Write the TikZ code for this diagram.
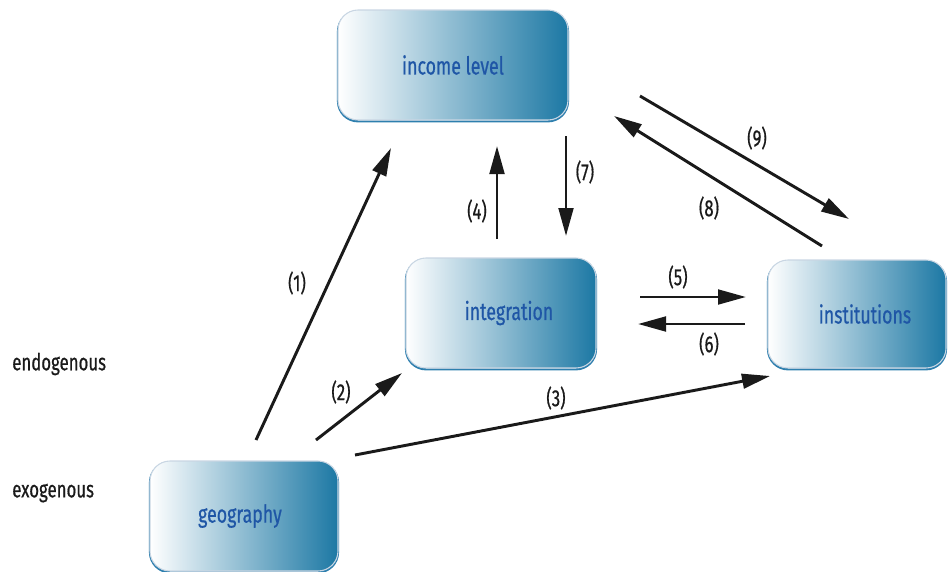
\documentclass[tikz,border=0pt]{standalone}
\usepackage{fontspec}
\setmainfont{Fira Sans}[FakeStretch=0.72, FakeBold=0.6]
\usetikzlibrary{arrows.meta}
\definecolor{boxright}{HTML}{1C78A4}
\definecolor{boxleft}{HTML}{FFFFFF}
\definecolor{boxdark}{HTML}{2E7FAE}
\definecolor{boxedge}{HTML}{C9D6E3}
\definecolor{boxtext}{HTML}{1F56A6}
\definecolor{arrowcol}{HTML}{1A1A1A}
\tikzset{
  box/.style={rectangle, rounded corners=15pt, left color=boxleft, right color=boxright,
    draw=boxedge, line width=0.8pt, text=boxtext, font=\fontsize{18.5}{21}\selectfont,
    preaction={draw=boxdark, line width=1.6pt, transform canvas={yshift=-1pt}}},
  conn/.style={draw=arrowcol, line width=2.2pt, -{Triangle[length=21pt, width=11pt]}},
  lab/.style={text=arrowcol, font=\fontsize{17.5}{20}\selectfont, inner sep=0pt},
  side/.style={text=arrowcol, font=\fontsize{17.5}{20}\selectfont, inner sep=0pt, anchor=west}
}
\begin{document}
\begin{tikzpicture}[x=0.75pt, y=-0.75pt]
\useasboundingbox (0,0) rectangle (948,571);
% boxes
\node[box, minimum width=172.5pt, minimum height=82.5pt] (income) at (453,65) {income level};
\node[box, minimum width=142.5pt, minimum height=82.5pt] (integ) at (501,313) {\hspace*{12pt}integration};
\node[box, minimum width=133.5pt, minimum height=81pt] (inst) at (857,314) {\hspace*{12pt}institutions};
\node[box, minimum width=141pt, minimum height=82.5pt] (geo) at (244,516) {geography\hspace*{6pt}};
% side labels
\node[side] (endo) at (12,364) {endogenous};
\node[side] (exo) at (12,493) {exogenous};
% arrow end points
\coordinate (a1s) at (256,440); \coordinate (a1e) at (391,148);
\coordinate (a2s) at (316,440); \coordinate (a2e) at (402,373);
\coordinate (a3s) at (355,455); \coordinate (a3e) at (770,376);
\coordinate (a4s) at (497,239); \coordinate (a4e) at (497,146);
\coordinate (a7s) at (566,136); \coordinate (a7e) at (566,236);
\coordinate (a5s) at (640,297); \coordinate (a5e) at (746,297);
\coordinate (a6s) at (745,324); \coordinate (a6e) at (638,324);
\coordinate (a8s) at (822,246); \coordinate (a8e) at (614,116);
\coordinate (a9s) at (640,96);  \coordinate (a9e) at (849,219);
% arrows
\draw[conn] (a1s) -- (a1e);
\draw[conn] (a2s) -- (a2e);
\draw[conn] (a3s) -- (a3e);
\draw[conn] (a4s) -- (a4e);
\draw[conn] (a7s) -- (a7e);
\draw[conn] (a5s) -- (a5e);
\draw[conn] (a6s) -- (a6e);
\draw[conn] (a8s) -- (a8e);
\draw[conn] (a9s) -- (a9e);
% arrow labels
\node[lab] (l1) at (297,283) {(1)};
\node[lab] (l2) at (341,392) {(2)};
\node[lab] (l3) at (556,398) {(3)};
\node[lab] (l4) at (477,211) {(4)};
\node[lab] (l7) at (585,172) {(7)};
\node[lab] (l5) at (678,277) {(5)};
\node[lab] (l6) at (709,344) {(6)};
\node[lab] (l8) at (709,208) {(8)};
\node[lab] (l9) at (757,138) {(9)};
\end{tikzpicture}
\end{document}
